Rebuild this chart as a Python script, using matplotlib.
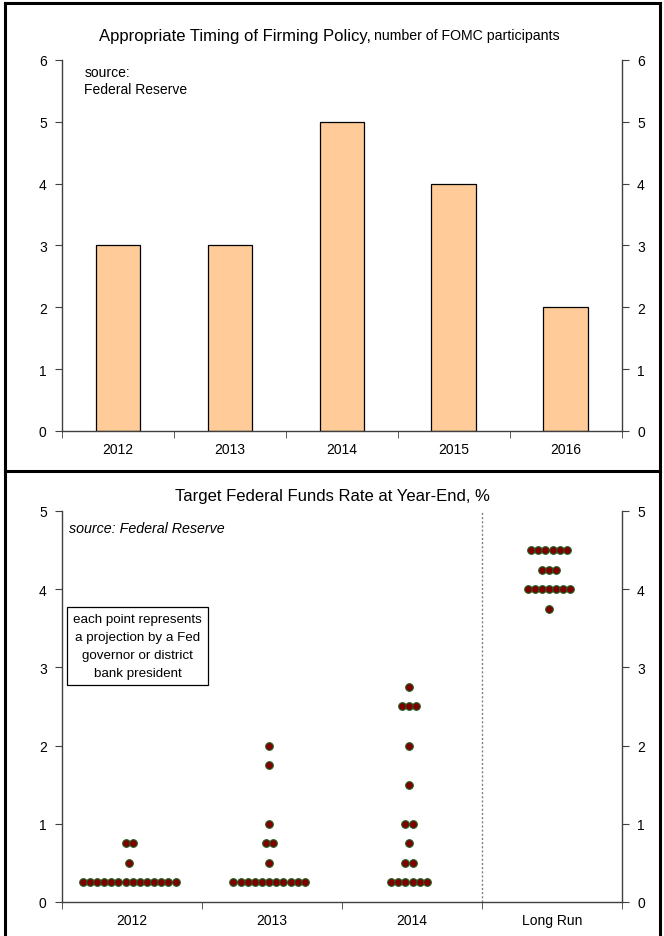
import numpy as np
import matplotlib.pyplot as plt
from matplotlib.lines import Line2D

plt.rcParams['font.family'] = ['Liberation Sans', 'DejaVu Sans']

# number of participants choosing each year for the first rate hike
timingYears = ["2012", "2013", "2014", "2015", "2016"]
timingCounts = [3, 3, 5, 4, 2]

# year-end target rate projections: (rate, number of participants)
dotCats = ["2012", "2013", "2014", "Long Run"]
dots2012 = [(0.25, 14), (0.5, 1), (0.75, 2)]
dots2013 = [(0.25, 11), (0.5, 1), (0.75, 2), (1.0, 1), (1.75, 1), (2.0, 1)]
dots2014 = [(0.25, 6), (0.5, 2), (0.75, 1), (1.0, 2), (1.5, 1), (2.0, 1),
            (2.5, 3), (2.75, 1)]
dotsLongRun = [(3.75, 1), (4.0, 7), (4.25, 3), (4.5, 6)]
dotGroups = [dots2012, dots2013, dots2014, dotsLongRun]

axisCol = "#404040"

fig = plt.figure(figsize=(6.64, 9.37), dpi=100)

# frame around both panels
for seg in [([0.008, 0.008], [0.0, 0.996]), ([0.994, 0.994], [0.0, 0.996]),
            ([0.008, 0.994], [0.996, 0.996]), ([0.008, 0.994], [0.496, 0.496])]:
    fig.add_artist(Line2D(seg[0], seg[1], color="black", lw=2.2,
                          transform=fig.transFigure))


def style_axes(ax, ymax):
    ax.set_ylim(0, ymax)
    ax.spines["top"].set_visible(False)
    for s in ["left", "right", "bottom"]:
        ax.spines[s].set_color(axisCol)
        ax.spines[s].set_linewidth(1.0)
    ax.set_yticks(range(0, ymax + 1))
    ax.tick_params(axis="y", which="both", left=True, right=True,
                   labelleft=True, labelright=True, direction="out",
                   length=5, color=axisCol, labelsize=10, pad=6)
    ax.tick_params(axis="x", which="major", length=0, labelsize=10, pad=8)
    ax.tick_params(axis="x", which="minor", length=5, color=axisCol,
                   direction="out")


###############################################
# top panel: timing of firming
ax1 = fig.add_axes([0.0934, 0.539, 0.843, 0.396])
x1 = np.arange(len(timingYears))
ax1.bar(x1, timingCounts, width=0.4, color="#FFCC99", edgecolor="black",
        linewidth=0.9, zorder=2)
ax1.set_xlim(-0.5, len(timingYears) - 0.5)
ax1.set_xticks(x1)
ax1.set_xticklabels(timingYears)
ax1.set_xticks(np.arange(-0.5, len(timingYears)), minor=True)
style_axes(ax1, 6)
ax1.text(0.04, 0.985, "source:\nFederal Reserve", transform=ax1.transAxes,
         fontsize=10, va="top", ha="left", linespacing=1.25)

fig.text(0.559, 0.9615, "Appropriate Timing of Firming Policy,", fontsize=12,
         ha="right", va="center")
fig.text(0.563, 0.9615, "number of FOMC participants", fontsize=10.2,
         ha="left", va="center")

###############################################
# bottom panel: dot plot
ax2 = fig.add_axes([0.0934, 0.0363, 0.843, 0.4173])
dotStep = 0.051
for i, group in enumerate(dotGroups):
    for rate, n in group:
        xs = i - 0.02 + (np.arange(n) - (n - 1) / 2) * dotStep
        ax2.scatter(xs, np.full(n, rate), s=30, color="#800000",
                    edgecolors="#1f5a1f", linewidths=0.8, zorder=3)
ax2.axvline(2.5, color="#808080", lw=1.0, ls=(0, (1.5, 1.5)), zorder=1)
ax2.set_xlim(-0.5, len(dotCats) - 0.5)
ax2.set_xticks(np.arange(len(dotCats)))
ax2.set_xticklabels(dotCats)
ax2.set_xticks(np.arange(-0.5, len(dotCats)), minor=True)
style_axes(ax2, 5)
ax2.text(0.012, 0.975, "source: Federal Reserve", transform=ax2.transAxes,
         fontsize=10.3, style="italic", va="top", ha="left")
ax2.text(0.135, 0.655, "each point represents\na projection by a Fed\n"
         "governor or district\nbank president", transform=ax2.transAxes,
         fontsize=9.6, ha="center", va="center", linespacing=1.65,
         bbox=dict(boxstyle="square,pad=0.45", fc="white", ec="black",
                   lw=0.9))

fig.text(0.5, 0.4705, "Target Federal Funds Rate at Year-End, %",
         fontsize=12, ha="center", va="center")

fig.savefig("out.png", dpi=100)
